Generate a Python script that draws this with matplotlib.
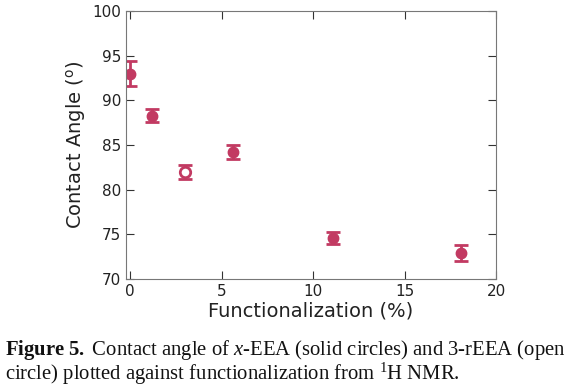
import matplotlib.pyplot as plt

plt.rcParams['mathtext.fontset'] = 'custom'
plt.rcParams['mathtext.rm'] = 'Liberation Serif'
plt.rcParams['mathtext.it'] = 'Liberation Serif:italic'
plt.rcParams['mathtext.bf'] = 'Liberation Serif:bold'
plt.rcParams['mathtext.sf'] = 'DejaVu Sans'

# solid circles: x-EEA
func_solid = [0.0, 1.2, 5.6, 11.1, 18.1]
angle_solid = [93.0, 88.3, 84.2, 74.6, 72.9]
err_solid = [1.4, 0.7, 0.8, 0.7, 0.9]

# open circle: 3-rEEA
func_open = [3.0]
angle_open = [82.0]
err_open = [0.8]

color = '#c23a62'

fig = plt.figure(figsize=(5.72, 3.88), dpi=100)
ax = fig.add_axes([0.2203, 0.2809, 0.6469, 0.6907])

ax.errorbar(func_solid, angle_solid, yerr=err_solid, fmt='o', color=color,
            ms=7.5, elinewidth=2, capsize=5, capthick=2)
ax.errorbar(func_open, angle_open, yerr=err_open, fmt='o', color=color,
            mfc='white', mec=color, mew=2, ms=7.5, elinewidth=2,
            capsize=5, capthick=2)

ax.set_xlim(-0.22, 20)
ax.set_ylim(70, 100)
ax.set_xticks([0, 5, 10, 15, 20])
ax.set_yticks([70, 75, 80, 85, 90, 95, 100])
ax.tick_params(direction='in', top=True, right=True, labelsize=11,
               length=6, colors='#333333', labelcolor='#222222')
for s in ax.spines.values():
    s.set_color('#777777')

ax.set_xlabel('Functionalization (%)', fontsize=14, color='#222222', labelpad=2)
ax.set_ylabel(r'Contact Angle ($^{\mathsf{o}}$)', fontsize=14, color='#222222', labelpad=4)

# caption
line1 = r'$\mathbf{Figure\ 5.}$ Contact angle of $x$-EEA (solid circles) and 3-rEEA (open'
line2 = r'circle) plotted against functionalization from $^{1}$H NMR.'
cap_size = 13
t1 = fig.text(0.009, 0.085, line1, fontsize=cap_size, family='Liberation Serif', color='#111111')
t2 = fig.text(0.009, 0.022, line2, fontsize=cap_size, family='Liberation Serif', color='#111111')

# stretch the first line to the full width, like a justified caption
r = fig.canvas.get_renderer()
w = t1.get_window_extent(r).width
cap_size = cap_size * 560 / w
t1.set_fontsize(cap_size)
t2.set_fontsize(cap_size)

fig.savefig('out.png', dpi=100)
